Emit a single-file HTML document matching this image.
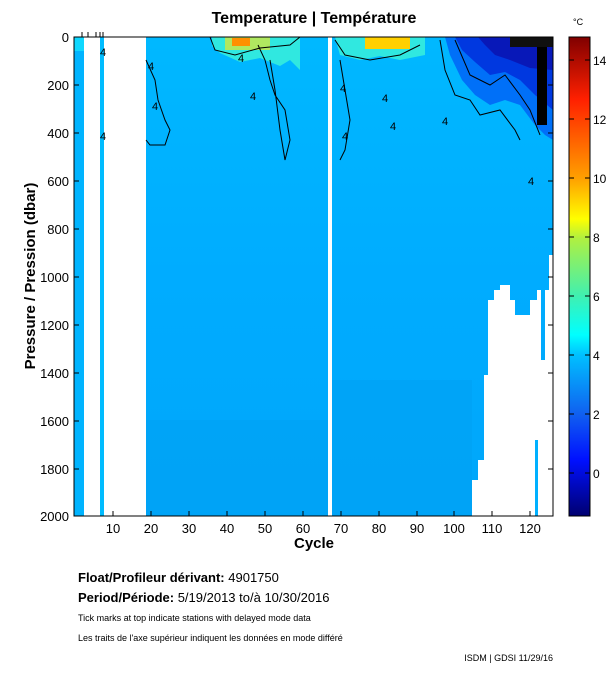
<!DOCTYPE html><html><head><style>body{margin:0;background:#fff;width:611px;height:675px;overflow:hidden;font-family:"Liberation Sans",sans-serif}</style></head><body>
<svg width="611" height="675" xmlns="http://www.w3.org/2000/svg" font-family="Liberation Sans, sans-serif">
<defs>
<linearGradient id="cb" x1="0" y1="1" x2="0" y2="0">
<stop offset="0" stop-color="#000070"/><stop offset="0.117" stop-color="#0010ff"/><stop offset="0.213" stop-color="#1060f0"/><stop offset="0.336" stop-color="#00c0ff"/><stop offset="0.378" stop-color="#00ffff"/><stop offset="0.46" stop-color="#40f0b0"/><stop offset="0.58" stop-color="#b0f040"/><stop offset="0.62" stop-color="#ffff00"/><stop offset="0.705" stop-color="#ffa000"/><stop offset="0.87" stop-color="#ff2000"/><stop offset="1" stop-color="#800000"/></linearGradient>
<linearGradient id="bg" x1="0" y1="0" x2="0" y2="1"><stop offset="0" stop-color="#00b8ff"/><stop offset="0.5" stop-color="#00acff"/><stop offset="1" stop-color="#00a6fa"/></linearGradient>
</defs>
<text x="314" y="23" text-anchor="middle" font-size="16" font-weight="bold">Temperature | Température</text>
<rect x="74" y="37" width="479" height="479" fill="url(#bg)"/>
<rect x="84" y="37" width="16" height="479" fill="#fff"/>
<rect x="104" y="37" width="42" height="479" fill="#fff"/>
<rect x="328" y="37" width="4" height="479" fill="#fff"/>
<rect x="74" y="37" width="10" height="479" fill="#00b4ff"/>
<rect x="100" y="37" width="4" height="479" fill="#00bcff"/>
<rect x="74" y="37" width="10" height="14" fill="#10d8ff"/>
<path d="M212,37 L300,37 L300,70 L290,60 L280,66 L260,58 L240,62 L220,53 L212,46Z" fill="#30e8e0"/>
<rect x="225" y="37" width="45" height="13" fill="#b0e860"/>
<rect x="232" y="38" width="18" height="8" fill="#ff9000"/>
<path d="M335,37 L425,37 L425,55 L400,60 L380,56 L360,60 L340,55Z" fill="#30e8e0"/>
<rect x="365" y="37" width="45" height="12" fill="#ffd000"/>
<path d="M445,37 L553,37 L553,140 L545,135 L535,125 L520,105 L505,100 L490,105 L475,95 L462,80 L450,55Z" fill="#0070f8"/>
<path d="M455,37 L553,37 L553,110 L535,95 L520,80 L505,72 L490,75 L475,62 L462,50Z" fill="#0038e0"/>
<path d="M478,37 L553,37 L553,70 L530,68 L510,60 L495,55 L485,45Z" fill="#0818b8"/>
<rect x="537" y="45" width="10" height="80" fill="#000"/>
<rect x="510" y="37" width="43" height="10" fill="#101010"/>
<rect x="146" y="420" width="182" height="96" fill="#00a0f2" opacity="0.5"/>
<rect x="332" y="380" width="140" height="136" fill="#00a0f2" opacity="0.5"/>
<path d="M472,516 L472,480 L478,480 L478,460 L484,460 L484,375 L488,375 L488,300 L494,300 L494,290 L500,290 L500,285 L510,285 L510,300 L515,300 L515,315 L530,315 L530,300 L537,300 L537,290 L541,290 L541,360 L545,360 L545,290 L549,290 L549,255 L553,255 L553,516Z" fill="#fff"/>
<rect x="535" y="440" width="3" height="76" fill="#00b0ff"/>
<g fill="none" stroke="#000" stroke-width="1">
<path d="M146,60 L155,80 L158,100 L165,120 L170,130 L165,145 L150,145 L146,140"/>
<path d="M258,45 L265,60 L270,80 L275,95 L285,110 L290,140 L285,160 L280,130 L275,90 L270,60"/>
<path d="M210,37 L215,50 L235,55 L260,48 L290,45 L300,37"/>
<path d="M335,40 L345,55 L370,60 L400,55 L420,45"/>
<path d="M440,40 L445,70 L455,95 L470,100 L480,115 L500,110 L515,130 L520,140"/>
<path d="M455,40 L470,75 L490,85 L505,75 L520,95 L530,110 L540,135"/>
<path d="M340,60 L345,90 L350,120 L345,150 L340,160"/>
</g>
<g font-size="11">
<text x="238" y="62">4</text><text x="250" y="100">4</text><text x="340" y="92">4</text><text x="382" y="102">4</text>
<text x="442" y="125">4</text><text x="100" y="56">4</text><text x="100" y="140">4</text><text x="342" y="140">4</text>
<text x="390" y="130">4</text><text x="528" y="185">4</text><text x="148" y="70">4</text><text x="152" y="110">4</text>
</g>
<rect x="74" y="37" width="479" height="479" fill="none" stroke="#000"/>
<g stroke="#000">
<line x1="74" y1="85" x2="79" y2="85"/><line x1="74" y1="133" x2="79" y2="133"/><line x1="74" y1="181" x2="79" y2="181"/><line x1="74" y1="229" x2="79" y2="229"/><line x1="74" y1="277" x2="79" y2="277"/><line x1="74" y1="325" x2="79" y2="325"/><line x1="74" y1="373" x2="79" y2="373"/><line x1="74" y1="421" x2="79" y2="421"/><line x1="74" y1="469" x2="79" y2="469"/>
<line x1="548" y1="85" x2="553" y2="85"/><line x1="548" y1="133" x2="553" y2="133"/><line x1="548" y1="181" x2="553" y2="181"/><line x1="548" y1="229" x2="553" y2="229"/><line x1="548" y1="277" x2="553" y2="277"/><line x1="548" y1="325" x2="553" y2="325"/><line x1="548" y1="373" x2="553" y2="373"/><line x1="548" y1="421" x2="553" y2="421"/><line x1="548" y1="469" x2="553" y2="469"/>
<line x1="113" y1="516" x2="113" y2="511"/><line x1="151" y1="516" x2="151" y2="511"/><line x1="189" y1="516" x2="189" y2="511"/><line x1="227" y1="516" x2="227" y2="511"/><line x1="265" y1="516" x2="265" y2="511"/><line x1="303" y1="516" x2="303" y2="511"/><line x1="341" y1="516" x2="341" y2="511"/><line x1="379" y1="516" x2="379" y2="511"/><line x1="417" y1="516" x2="417" y2="511"/><line x1="454" y1="516" x2="454" y2="511"/><line x1="492" y1="516" x2="492" y2="511"/><line x1="530" y1="516" x2="530" y2="511"/>
<line x1="82" y1="37" x2="82" y2="32"/><line x1="88" y1="37" x2="88" y2="32"/><line x1="96" y1="37" x2="96" y2="32"/><line x1="100" y1="37" x2="100" y2="32"/><line x1="103" y1="37" x2="103" y2="32"/>
</g>
<g font-size="13" text-anchor="end">
<text x="69" y="42">0</text><text x="69" y="90">200</text><text x="69" y="138">400</text><text x="69" y="186">600</text><text x="69" y="234">800</text><text x="69" y="282">1000</text><text x="69" y="330">1200</text><text x="69" y="378">1400</text><text x="69" y="426">1600</text><text x="69" y="474">1800</text><text x="69" y="521">2000</text>
</g>
<g font-size="13" text-anchor="middle">
<text x="113" y="533">10</text><text x="151" y="533">20</text><text x="189" y="533">30</text><text x="227" y="533">40</text><text x="265" y="533">50</text><text x="303" y="533">60</text><text x="341" y="533">70</text><text x="379" y="533">80</text><text x="417" y="533">90</text><text x="454" y="533">100</text><text x="492" y="533">110</text><text x="530" y="533">120</text>
</g>
<text x="314" y="548" text-anchor="middle" font-size="15" font-weight="bold">Cycle</text>
<text transform="translate(35,276) rotate(-90)" text-anchor="middle" font-size="15" font-weight="bold">Pressure / Pression (dbar)</text>
<rect x="569" y="37" width="21" height="479" fill="url(#cb)" stroke="#000"/>
<g stroke="#000">
<line x1="569" y1="60" x2="574" y2="60"/><line x1="585" y1="60" x2="590" y2="60"/>
<line x1="569" y1="119" x2="574" y2="119"/><line x1="585" y1="119" x2="590" y2="119"/>
<line x1="569" y1="178" x2="574" y2="178"/><line x1="585" y1="178" x2="590" y2="178"/>
<line x1="569" y1="237" x2="574" y2="237"/><line x1="585" y1="237" x2="590" y2="237"/>
<line x1="569" y1="296" x2="574" y2="296"/><line x1="585" y1="296" x2="590" y2="296"/>
<line x1="569" y1="355" x2="574" y2="355"/><line x1="585" y1="355" x2="590" y2="355"/>
<line x1="569" y1="414" x2="574" y2="414"/><line x1="585" y1="414" x2="590" y2="414"/>
<line x1="569" y1="473" x2="574" y2="473"/><line x1="585" y1="473" x2="590" y2="473"/>
</g>
<g font-size="12">
<text x="593" y="65">14</text><text x="593" y="124">12</text><text x="593" y="183">10</text><text x="593" y="242">8</text><text x="593" y="301">6</text><text x="593" y="360">4</text><text x="593" y="419">2</text><text x="593" y="478">0</text>
</g>
<text x="573" y="25" font-size="9">°C</text>
<text x="78" y="582" font-size="13" font-weight="bold">Float/Profileur dérivant: <tspan font-weight="normal">4901750</tspan></text>
<text x="78" y="602" font-size="13" font-weight="bold">Period/Période: <tspan font-weight="normal">5/19/2013  to/à  10/30/2016</tspan></text>
<text x="78" y="621" font-size="9">Tick marks at top indicate stations with delayed mode data</text>
<text x="78" y="641" font-size="9">Les traits de l'axe supérieur indiquent les données en mode différé</text>
<text x="553" y="661" font-size="9" text-anchor="end">ISDM | GDSI  11/29/16</text>
</svg>
</body></html>
